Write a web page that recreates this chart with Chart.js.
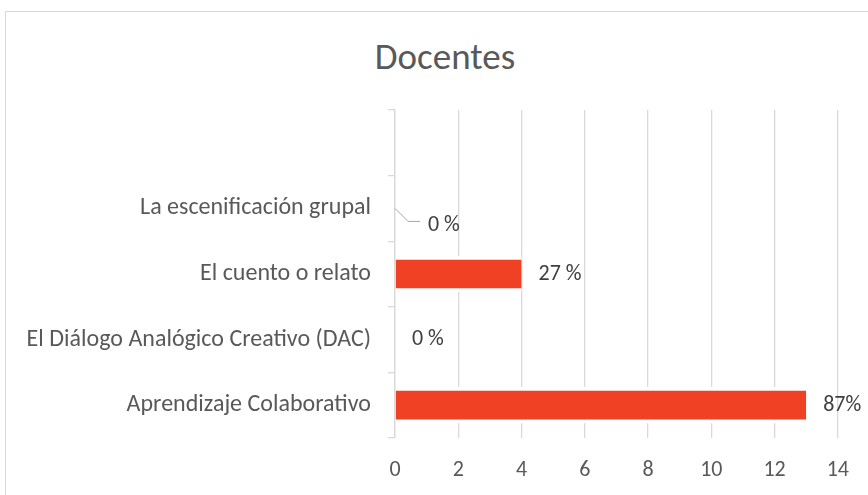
<!DOCTYPE html>
<html>
<head>
<meta charset="utf-8">
<script src="https://cdn.jsdelivr.net/npm/chart.js@4"></script>
<style>
    html, body {margin: 0; padding: 0; background: #ffffff; overflow: hidden;}
    #wrap {position: relative; width: 868px; height: 495px; overflow: hidden;}
    #frame {position: absolute; left: 5px; top: 11px; width: 900px; height: 520px; border: 1px solid #d9d9d9;}
    #docentes_title {position: absolute; left: 0; top: 35px; width: 890px; text-align: center;
        font: 37px Calibri, Carlito, Lato, sans-serif; line-height: 44px; color: #595959;}
    #docentes_canvas {position: absolute; left: 0; top: 0;}
</style>
</head>
<body>
<div id="wrap">
    <div id="frame"></div>
    <div id="docentes_title">Docentes</div>
    <canvas id="docentes_canvas" width="868" height="495"></canvas>
</div>
<script>
const categories = ["", "La escenificación grupal", "El cuento o relato", "El Diálogo Analógico Creativo (DAC)", "Aprendizaje Colaborativo"];
const values = [null, 0, 4, 0, 13];
const value_labels = ["", "0 %", "27 %", "0 %", "87%"];
const x_max = 14;
const x_step = 2;

const font_family = "Calibri, Carlito, Lato, 'Open Sans', sans-serif";
const text_color = "#595959";
const bar_color = "#f04124";

// data labels to the right of each bar, the first zero one gets a leader line like Excel
const bar_labels = {
    id: "bar_labels",
    afterDatasetsDraw(chart) {
        const ctx = chart.ctx;
        const meta = chart.getDatasetMeta(0);
        ctx.save();
        ctx.font = "22px " + font_family;
        ctx.fillStyle = "#404040";
        ctx.textBaseline = "middle";
        ctx.textAlign = "left";
        meta.data.forEach(function (bar, i) {
            const text = value_labels[i];
            if (!text) {return;}
            if (i === 1) {
                ctx.strokeStyle = "#a6a6a6";
                ctx.lineWidth = 1;
                ctx.beginPath();
                ctx.moveTo(bar.x, bar.y);
                ctx.lineTo(bar.x + 13, bar.y + 13);
                ctx.lineTo(bar.x + 25, bar.y + 13);
                ctx.stroke();
                ctx.fillText(text, bar.x + 33, bar.y + 17);
            } else {
                ctx.fillText(text, bar.x + 17, bar.y);
            }
        });
        ctx.restore();
    }
};

let data = {
    labels: categories,
    datasets: [{
        label: "Docentes",
        data: values,
        backgroundColor: bar_color,
        borderColor: "#ffffff",
        borderWidth: {top: 4, bottom: 4, left: 0, right: 0},
        borderSkipped: false,
        barPercentage: 0.56,
        categoryPercentage: 1.0
    }]
};

let config = {
    type: "bar",
    data: data,
    options: {
        indexAxis: "y",
        responsive: false,
        animation: false,
        layout: {
            padding: {top: 110, right: 30, bottom: 0, left: 0}
        },
        plugins: {
            legend: {display: false},
            tooltip: {enabled: false},
            title: {display: false}
        },
        scales: {
            x: {
                min: 0,
                max: x_max,
                ticks: {
                    stepSize: x_step,
                    color: text_color,
                    font: {family: font_family, size: 22},
                    padding: 19
                },
                grid: {
                    color: "#d9d9d9",
                    lineWidth: 1.3,
                    drawTicks: false
                },
                border: {display: false},
                afterFit: function (scale) {scale.height = 57;}
            },
            y: {
                ticks: {
                    color: text_color,
                    font: {family: font_family, size: 24},
                    padding: 17
                },
                grid: {
                    offset: true,
                    drawOnChartArea: false,
                    drawTicks: true,
                    tickLength: 7,
                    color: "#d9d9d9",
                    lineWidth: 1.3
                },
                border: {display: true, color: "#d9d9d9", width: 1.3},
                afterFit: function (scale) {scale.width = 395;}
            }
        }
    },
    plugins: [bar_labels]
};

const docentes_plot = new Chart(
    document.getElementById("docentes_canvas"),
    config
);
</script>
</body>
</html>
